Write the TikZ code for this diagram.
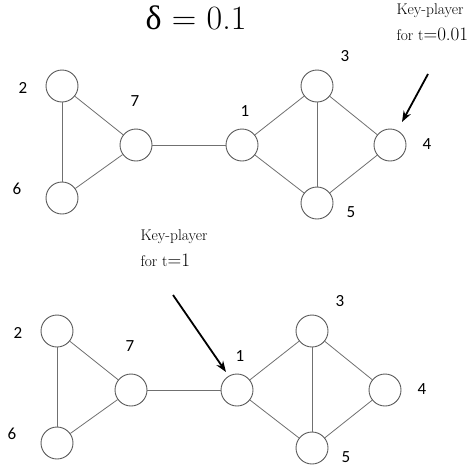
\documentclass[tikz,border=0pt]{standalone}
\usepackage{fontspec}
\usetikzlibrary{arrows.meta, positioning}
\newfontfamily\numfont{Carlito}
\newfontfamily\greekfont{Liberation Serif}
\definecolor{ring}{HTML}{5A5A5A}
\definecolor{edgegray}{HTML}{707070}

\begin{document}
\begin{tikzpicture}[
    x=1pt, y=-1pt,
    vertex/.style={circle, draw=ring, line width=0.9pt, fill=white,
                   minimum size=32pt, inner sep=0pt},
    num/.style={font=\numfont\fontsize{17}{18}\selectfont},
    link/.style={draw=edgegray, line width=0.8pt},
    pointer/.style={-{Stealth[length=11pt, width=8pt]}, line width=1.8pt},
    note/.style={font=\fontsize{15.5}{26}\selectfont, align=left, anchor=base west}
]
\useasboundingbox (0,0) rectangle (470,466);

% Title
\node[font=\fontsize{34}{40}\selectfont, anchor=base] (delta) at (196,29)
    {{\greekfont δ} = 0.1};

% Two copies of the same graph
\foreach \g/\dx/\dy in {t/0/0, b/-5/245} {
  \begin{scope}[shift={(\dx,\dy)}]
    \node[vertex] (\g2) at (62,86) {};
    \node[vertex] (\g6) at (62,198) {};
    \node[vertex] (\g7) at (136,145) {};
    \node[vertex] (\g1) at (242,145) {};
    \node[vertex] (\g3) at (317,86) {};
    \node[vertex] (\g4) at (390,145) {};
    \node[vertex] (\g5) at (317,203) {};
    % vertex numbers
    \node[num] (\g l2) at (23,88) {2};
    \node[num] (\g l6) at (17,189) {6};
    \node[num] (\g l7) at (135,101) {7};
    \node[num] (\g l1) at (245,111) {1};
    \node[num] (\g l3) at (345,56) {3};
    \node[num] (\g l4) at (427,144) {4};
    \node[num] (\g l5) at (351,212) {5};
  \end{scope}
  \foreach \a/\b in {2/6, 2/7, 6/7, 7/1, 1/3, 1/5, 3/5, 3/4, 5/4}
    \draw[link] (\g\a) -- (\g\b);
}

% Key-player notes
\node[note] (keytop) at (393,40) {Key-player\\for t{\fontsize{19}{20}\selectfont=0.01}};
\coordinate (tailtop) at (428,74);
\coordinate (headtop) at (402,122);
\draw[pointer] (tailtop) -- (headtop);

\node[note] (keybot) at (137,266) {Key-player\\for t{\fontsize{19}{20}\selectfont=1}};
\coordinate (tailbot) at (173,295);
\coordinate (headbot) at (226,372);
\draw[pointer] (tailbot) -- (headbot);

\end{tikzpicture}
\end{document}
